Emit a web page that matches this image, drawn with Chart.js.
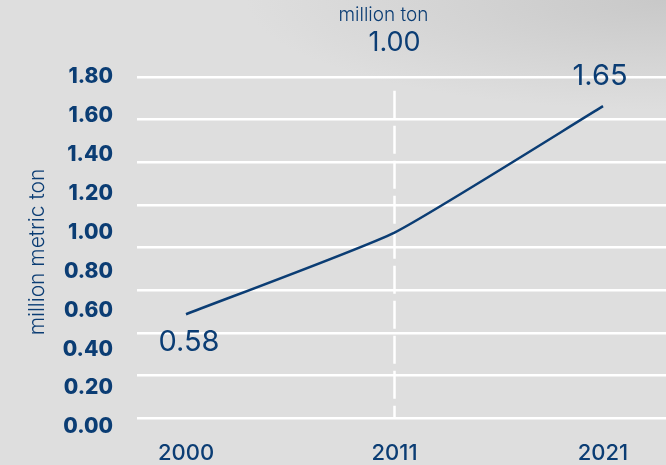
<!DOCTYPE html>
<html>
<head>
<meta charset="utf-8">
<script src="https://cdn.jsdelivr.net/npm/chart.js@4/dist/chart.umd.min.js"></script>
<style>
  html, body { margin: 0; padding: 0; }
  body {
    width: 666px; height: 465px; overflow: hidden;
    background-color: #dedede;
    background-image: radial-gradient(ellipse 420px 110px at 100% 0%, rgba(195,195,195,0.8), rgba(222,222,222,0) 100%);
  }
  canvas { display: block; }
</style>
</head>
<body>
<canvas id="chart" width="666" height="465"></canvas>
<script>
const years = ['2000', '2011', '2021'];
const production = [0.58, 1.00, 1.65];
const yTicks = [0.0, 0.2, 0.4, 0.6, 0.8, 1.0, 1.2, 1.4, 1.6, 1.8];
const unitLabel = 'million ton';
const axisTitle = 'million metric ton';

const navy = '#0b3d74';

// white dashed marker at 2011 plus the value labels
const valueLabels = {
  id: 'valueLabels',
  beforeDatasetsDraw(chart) {
    const ctx = chart.ctx;
    const x = chart.scales.x.getPixelForValue(1);
    const g = chart.scales.grid;
    ctx.save();
    ctx.strokeStyle = '#ffffff';
    ctx.lineWidth = 2.5;
    ctx.setLineDash([28, 7]);
    ctx.beginPath();
    ctx.moveTo(x, g.getPixelForValue(7.68));
    ctx.lineTo(x, g.getPixelForValue(0));
    ctx.stroke();
    ctx.restore();
  },
  afterDatasetsDraw(chart) {
    const ctx = chart.ctx;
    const pts = chart.getDatasetMeta(0).data;
    ctx.save();
    ctx.fillStyle = navy;
    ctx.textAlign = 'center';
    ctx.textBaseline = 'middle';
    production.forEach((v, i) => {
      const p = pts[i];
      const txt = v.toFixed(2);
      if (i === 0) {
        ctx.font = '400 29px Inter';
        ctx.fillText(txt, p.x + 3, p.y + 28);
      } else if (i === production.length - 1) {
        ctx.font = '400 29px Inter';
        ctx.fillText(txt, p.x - 3, p.y - 30);
      } else {
        ctx.font = '300 19px Inter';
        ctx.fillText(unitLabel, p.x - 11, 15);
        ctx.font = '400 27px Inter';
        ctx.fillText(txt, p.x, 43);
      }
    });
    ctx.restore();
  }
};

new Chart(document.getElementById('chart'), {
  type: 'line',
  data: {
    datasets: [{
      data: production.map((v, i) => ({ x: i, y: v })),
      borderColor: navy,
      borderWidth: 2.5,
      tension: 0.15,
      pointRadius: 0,
      fill: false,
      yAxisID: 'y'
    }]
  },
  options: {
    responsive: false,
    animation: false,
    layout: { padding: { top: 77, right: 0, bottom: 0, left: 0 } },
    plugins: {
      legend: { display: false },
      tooltip: { enabled: false }
    },
    scales: {
      x: {
        type: 'linear',
        min: -0.235,
        max: 2.302,
        afterBuildTicks: s => { s.ticks = years.map((_, i) => ({ value: i })); },
        afterFit: s => { s.height = 38; },
        ticks: {
          callback: v => years[v],
          color: navy,
          font: { family: 'Inter', size: 22, weight: '500' },
          padding: 5,
          maxRotation: 0
        },
        grid: { display: false },
        border: { display: false }
      },
      y: {
        position: 'left',
        min: 0,
        max: 1.8,
        afterBuildTicks: s => { s.ticks = yTicks.map(v => ({ value: v })); },
        afterFit: s => { s.width = 137; },
        ticks: {
          callback: v => v.toFixed(2),
          color: navy,
          font: { family: 'Inter', size: 21, weight: '800' },
          padding: 16
        },
        grid: { display: false },
        border: { display: false },
        title: {
          display: true,
          text: axisTitle,
          color: navy,
          font: { family: 'Inter', size: 21, weight: '300' },
          padding: { top: 25, bottom: 0 }
        }
      },
      grid: {
        position: 'right',
        min: -0.211,
        max: 8,
        afterBuildTicks: s => { s.ticks = [0, 1, 2, 3, 4, 5, 6, 7, 8].map(v => ({ value: v })); },
        afterFit: s => { s.width = 0; },
        ticks: { display: false },
        grid: { color: '#ffffff', lineWidth: 2.5, drawTicks: false },
        border: { display: false }
      }
    }
  },
  plugins: [valueLabels]
});
</script>
</body>
</html>
